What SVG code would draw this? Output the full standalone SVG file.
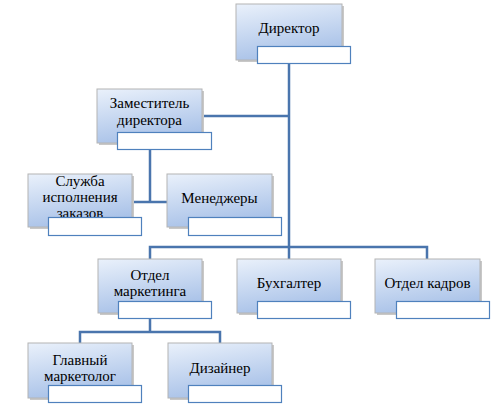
<svg xmlns="http://www.w3.org/2000/svg" width="503" height="412" viewBox="0 0 503 412">
<defs>
<linearGradient id="g" x1="0" y1="0" x2="0.3" y2="1">
<stop offset="0" stop-color="#eaf1fb"/>
<stop offset="1" stop-color="#a9c2e8"/>
</linearGradient>
<style>
.box{fill:url(#g);stroke:#b4b4b4;stroke-width:1}
.sh{fill:#c8c8c8}
.lbl{fill:#ffffff;stroke:#4f81bd;stroke-width:1.2}
.t{font-family:'Liberation Serif','Times New Roman',serif;font-size:15px;fill:#000;text-anchor:middle}
.c{fill:none;stroke:#4a75ad;stroke-width:2.5}
</style>
</defs>
<rect width="503" height="412" fill="#ffffff"/>
<g id="connectors">
<path class="c" d="M289 64V259"/>
<path class="c" d="M202 116H289"/>
<path class="c" d="M150 150V202M132 202H167"/>
<path class="c" d="M150 259V247H427V259"/>
<path class="c" d="M150 319V332M80 343V332H220V343"/>
</g>
<g id="director">
<rect class="sh" x="238" y="6" width="106" height="56"/>
<rect class="box" x="236" y="4" width="106" height="56"/>
<text class="t" x="289" y="33">Директор</text>
<rect class="lbl" x="257.5" y="46.5" width="93" height="17"/>
</g>
<g id="deputy">
<rect class="sh" x="99" y="91" width="105" height="54"/>
<rect class="box" x="97" y="89" width="105" height="54"/>
<text class="t" x="149.5" y="108">Заместитель</text>
<text class="t" x="149.5" y="125">директора</text>
<rect class="lbl" x="117.5" y="132.5" width="94" height="17"/>
</g>
<g id="orders">
<rect class="sh" x="30" y="176" width="104" height="53"/>
<rect class="box" x="28" y="174" width="104" height="53"/>
<text class="t" x="80" y="186">Служба</text>
<text class="t" x="80" y="202">исполнения</text>
<text class="t" x="80" y="218">заказов</text>
<rect class="lbl" x="48.5" y="217.5" width="93" height="18"/>
</g>
<g id="managers">
<rect class="sh" x="169" y="176" width="105" height="53"/>
<rect class="box" x="167" y="174" width="105" height="53"/>
<text class="t" x="219.5" y="203">Менеджеры</text>
<rect class="lbl" x="188.5" y="217.5" width="93" height="18"/>
</g>
<g id="marketing">
<rect class="sh" x="100" y="261" width="104" height="54"/>
<rect class="box" x="98" y="259" width="104" height="54"/>
<text class="t" x="150" y="280">Отдел</text>
<text class="t" x="150" y="296">маркетинга</text>
<rect class="lbl" x="118.5" y="301.5" width="93" height="17"/>
</g>
<g id="accountant">
<rect class="sh" x="239" y="261" width="104" height="54"/>
<rect class="box" x="237" y="259" width="104" height="54"/>
<text class="t" x="289" y="288">Бухгалтер</text>
<rect class="lbl" x="257.5" y="301.5" width="93" height="17"/>
</g>
<g id="hr">
<rect class="sh" x="377" y="261" width="105" height="54"/>
<rect class="box" x="375" y="259" width="105" height="54"/>
<text class="t" x="427.5" y="288">Отдел кадров</text>
<rect class="lbl" x="396.5" y="301.5" width="93" height="17"/>
</g>
<g id="chief-marketer">
<rect class="sh" x="30" y="345" width="104" height="55"/>
<rect class="box" x="28" y="343" width="104" height="55"/>
<text class="t" x="80" y="365">Главный</text>
<text class="t" x="80" y="381">маркетолог</text>
<rect class="lbl" x="48.5" y="385.5" width="93" height="17"/>
</g>
<g id="designer">
<rect class="sh" x="170" y="345" width="104" height="55"/>
<rect class="box" x="168" y="343" width="104" height="55"/>
<text class="t" x="220" y="373">Дизайнер</text>
<rect class="lbl" x="188.5" y="385.5" width="93" height="17"/>
</g>
</svg>
